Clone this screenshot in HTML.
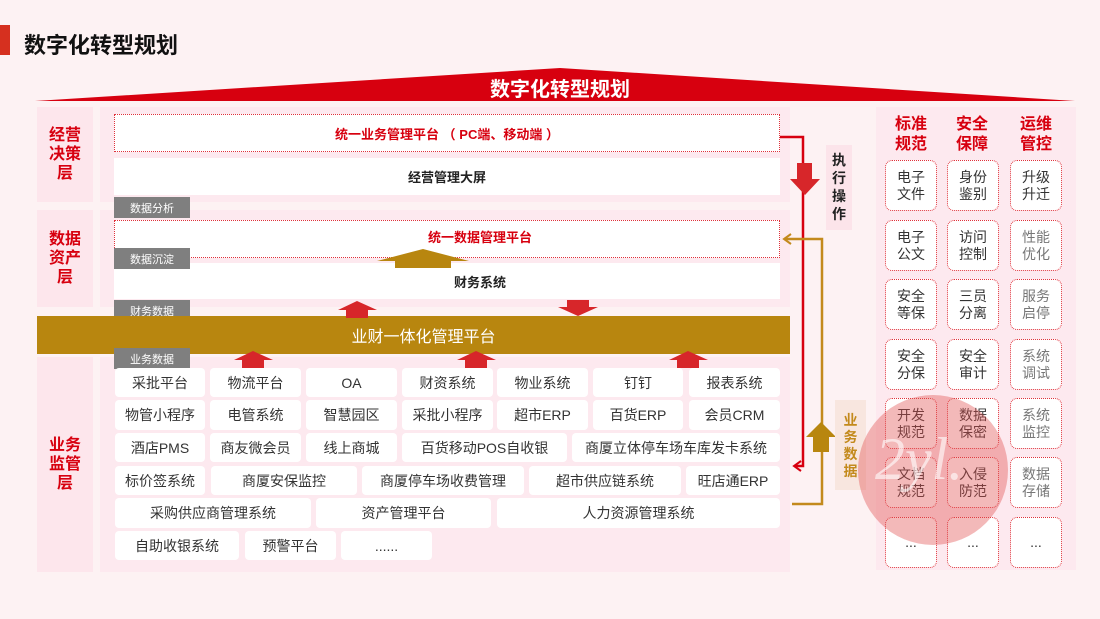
<!DOCTYPE html>
<html><head><meta charset="utf-8"><style>
*{margin:0;padding:0;box-sizing:border-box}
body{width:1100px;height:619px;background:#fdf2f3;position:relative;overflow:hidden;font-family:"Liberation Sans","Noto Sans CJK SC",sans-serif}
.a{position:absolute}
.c{position:absolute;background:#fff;border-radius:4px;display:flex;align-items:center;justify-content:center;font-size:14px;color:#333;white-space:nowrap}
.tag{position:absolute;background:#7f7f7f;color:#fff;font-size:11px;display:flex;align-items:center;justify-content:center;width:76px;height:21px;left:114px}
.lbl{position:absolute;background:#fde6ec;left:37px;width:56px;display:flex;align-items:center;justify-content:center;text-align:center;color:#d7000f;font-weight:bold;font-size:16px;line-height:19px}
.rc{position:absolute;width:52px;height:51px;background:#fff;border:1.5px dotted #e0303a;border-radius:7px;display:flex;align-items:center;justify-content:center;text-align:center;font-size:14px;line-height:17px;color:#333}
.g{color:#777}
.rh{position:absolute;top:115px;width:60px;text-align:center;color:#d7000f;font-weight:bold;font-size:16px;line-height:20px}
</style></head><body>
<div class="a" style="left:0;top:25px;width:10px;height:30px;background:#d6301f"></div>
<div class="a" style="left:24px;top:28px;font-size:22px;font-weight:bold;color:#111">数字化转型规划</div>

<svg class="a" style="left:0;top:0" width="1100" height="619">
<polygon points="35,101 560,68 1075,101" fill="#d7000f"/>
</svg>
<div class="a" style="left:0;width:1100px;top:73px;text-align:center;color:#fff;font-weight:bold;font-size:20px;padding-left:20px">数字化转型规划</div>

<div class="lbl" style="top:107px;height:95px">经营<br>决策<br>层</div>
<div class="lbl" style="top:210px;height:97px">数据<br>资产<br>层</div>
<div class="lbl" style="top:357px;height:215px">业务<br>监管<br>层</div>
<div class="a" style="left:100px;top:107px;width:690px;height:95px;background:#fde9ef"></div>
<div class="a" style="left:100px;top:210px;width:690px;height:97px;background:#fde9ef"></div>
<div class="a" style="left:100px;top:357px;width:690px;height:215px;background:#fde9ef"></div>

<div class="c" style="left:114px;top:114px;width:666px;height:38px;border:1.5px dotted #e0303a;border-radius:0;color:#d7000f;font-weight:bold;font-size:13px">统一业务管理平台 （ PC端、移动端 ）</div>
<div class="c" style="left:114px;top:158px;width:666px;height:37px;border-radius:0;font-weight:bold;font-size:13px;color:#222">经营管理大屏</div>
<div class="tag" style="top:197px">数据分析</div>
<div class="c" style="left:114px;top:220px;width:666px;height:38px;border:1.5px dotted #e0303a;border-radius:0;color:#d7000f;font-weight:bold;font-size:13px;padding-bottom:6px;padding-left:66px">统一数据管理平台</div>
<div class="c" style="left:114px;top:263px;width:666px;height:36px;border-radius:0;font-weight:bold;font-size:13px;color:#222;padding-left:66px">财务系统</div>
<div class="tag" style="top:248px">数据沉淀</div>
<div class="tag" style="top:300px">财务数据</div>
<div class="a" style="left:37px;top:316px;width:753px;height:38px;background:#b8860f;color:#fff;font-size:16px;display:flex;align-items:center;justify-content:center;padding-left:20px">业财一体化管理平台</div>
<div class="tag" style="top:348px">业务数据</div>

<svg class="a" style="left:0;top:0" width="1100" height="619">
<polygon points="377,261 423,249 469,261 451,261 451,268 395,268 395,261" fill="#b8860f"/>
<polygon points="338,310 357,301 377,310 368,310 368,318 346,318 346,310" fill="#d7262a"/>
<polygon points="567,300 589,300 589,307 598,307 578,316 558,307 567,307" fill="#d7262a"/>
<polygon points="234,360 253,351 273,360 264,360 264,368 242,368 242,360" fill="#d7262a"/>
<polygon points="457,360 476,351 496,360 487,360 487,368 465,368 465,360" fill="#d7262a"/>
<polygon points="669,360 688,351 708,360 699,360 699,368 677,368 677,360" fill="#d7262a"/>
<polyline points="780,137 803,137 803,466 795,466" fill="none" stroke="#d7000f" stroke-width="2.5"/>
<polyline points="801,461 794,466 801,471" fill="none" stroke="#d7000f" stroke-width="2"/>
<polygon points="797,163 812,163 812,179 820,179 805,195 790,179 797,179" fill="#d7262a"/>
<polyline points="792,504 822,504 822,239 784,239" fill="none" stroke="#c38a1c" stroke-width="2.5"/>
<polyline points="791,234 784,239 791,244" fill="none" stroke="#c38a1c" stroke-width="2"/>
<polygon points="813,452 829,452 829,437 836,437 821,422 806,437 813,437" fill="#b8860f"/>
</svg>

<div class="c" style="left:115px;top:368px;width:90px;height:29px">采批平台</div>
<div class="c" style="left:210px;top:368px;width:91px;height:29px">物流平台</div>
<div class="c" style="left:306px;top:368px;width:91px;height:29px">OA</div>
<div class="c" style="left:402px;top:368px;width:91px;height:29px">财资系统</div>
<div class="c" style="left:497px;top:368px;width:91px;height:29px">物业系统</div>
<div class="c" style="left:593px;top:368px;width:90px;height:29px">钉钉</div>
<div class="c" style="left:689px;top:368px;width:91px;height:29px">报表系统</div>

<div class="c" style="left:115px;top:400px;width:90px;height:30px">物管小程序</div>
<div class="c" style="left:210px;top:400px;width:91px;height:30px">电管系统</div>
<div class="c" style="left:306px;top:400px;width:91px;height:30px">智慧园区</div>
<div class="c" style="left:402px;top:400px;width:91px;height:30px">采批小程序</div>
<div class="c" style="left:497px;top:400px;width:91px;height:30px">超市ERP</div>
<div class="c" style="left:593px;top:400px;width:90px;height:30px">百货ERP</div>
<div class="c" style="left:689px;top:400px;width:91px;height:30px">会员CRM</div>

<div class="c" style="left:115px;top:433px;width:90px;height:29px">酒店PMS</div>
<div class="c" style="left:210px;top:433px;width:91px;height:29px">商友微会员</div>
<div class="c" style="left:306px;top:433px;width:91px;height:29px">线上商城</div>
<div class="c" style="left:402px;top:433px;width:165px;height:29px">百货移动POS自收银</div>
<div class="c" style="left:572px;top:433px;width:208px;height:29px">商厦立体停车场车库发卡系统</div>

<div class="c" style="left:115px;top:466px;width:90px;height:29px">标价签系统</div>
<div class="c" style="left:211px;top:466px;width:146px;height:29px">商厦安保监控</div>
<div class="c" style="left:362px;top:466px;width:162px;height:29px">商厦停车场收费管理</div>
<div class="c" style="left:529px;top:466px;width:152px;height:29px">超市供应链系统</div>
<div class="c" style="left:686px;top:466px;width:94px;height:29px">旺店通ERP</div>

<div class="c" style="left:115px;top:498px;width:196px;height:30px">采购供应商管理系统</div>
<div class="c" style="left:316px;top:498px;width:175px;height:30px">资产管理平台</div>
<div class="c" style="left:497px;top:498px;width:283px;height:30px">人力资源管理系统</div>

<div class="c" style="left:115px;top:531px;width:124px;height:29px">自助收银系统</div>
<div class="c" style="left:245px;top:531px;width:91px;height:29px">预警平台</div>
<div class="c" style="left:341px;top:531px;width:91px;height:29px">......</div>

<div class="a" style="left:826px;top:145px;width:26px;height:85px;background:#fce4ea;color:#222;font-weight:bold;font-size:14px;line-height:18px;text-align:center;padding-top:6px">执<br>行<br>操<br>作</div>
<div class="a" style="left:835px;top:400px;width:31px;height:90px;background:#f8e6df;color:#c38a1c;font-weight:bold;font-size:14px;line-height:17px;text-align:center;padding-top:12px">业<br>务<br>数<br>据</div>

<div class="a" style="left:876px;top:107px;width:200px;height:463px;background:#fde9ef;z-index:-1"></div>
<div class="rh" style="left:881px">标准<br>规范</div>
<div class="rh" style="left:942px">安全<br>保障</div>
<div class="rh" style="left:1006px">运维<br>管控</div>

<div class="rc" style="left:885px;top:160px">电子<br>文件</div>
<div class="rc" style="left:947px;top:160px">身份<br>鉴别</div>
<div class="rc" style="left:1010px;top:160px">升级<br>升迁</div>
<div class="rc" style="left:885px;top:220px">电子<br>公文</div>
<div class="rc" style="left:947px;top:220px">访问<br>控制</div>
<div class="rc g" style="left:1010px;top:220px">性能<br>优化</div>
<div class="rc" style="left:885px;top:279px">安全<br>等保</div>
<div class="rc" style="left:947px;top:279px">三员<br>分离</div>
<div class="rc g" style="left:1010px;top:279px">服务<br>启停</div>
<div class="rc" style="left:885px;top:339px">安全<br>分保</div>
<div class="rc" style="left:947px;top:339px">安全<br>审计</div>
<div class="rc g" style="left:1010px;top:339px">系统<br>调试</div>
<div class="rc" style="left:885px;top:398px">开发<br>规范</div>
<div class="rc" style="left:947px;top:398px">数据<br>保密</div>
<div class="rc g" style="left:1010px;top:398px">系统<br>监控</div>
<div class="rc" style="left:885px;top:457px">文档<br>规范</div>
<div class="rc" style="left:947px;top:457px">入侵<br>防范</div>
<div class="rc g" style="left:1010px;top:457px">数据<br>存储</div>
<div class="rc" style="left:885px;top:517px">...</div>
<div class="rc" style="left:947px;top:517px">...</div>
<div class="rc" style="left:1010px;top:517px">...</div>
<div class="a" style="left:858px;top:395px;width:150px;height:150px;border-radius:50%;background:rgba(225,80,80,0.4)"></div>
<div class="a" style="left:875px;top:425px;font-family:'Liberation Serif',serif;font-style:italic;font-size:60px;color:rgba(255,255,255,0.6)">2yl.</div>
</body></html>
